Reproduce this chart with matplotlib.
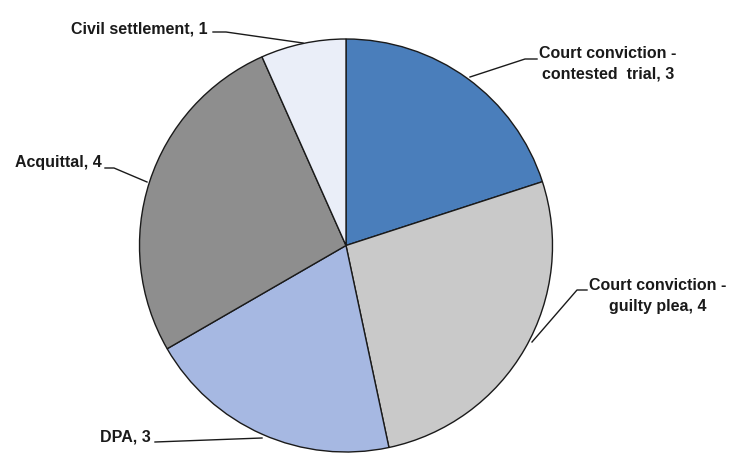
import matplotlib
matplotlib.use("Agg")
import matplotlib.pyplot as plt

plt.rcParams['font.family'] = ['Liberation Sans Narrow', 'Liberation Sans', 'DejaVu Sans']

labels = ["Court conviction -\ncontested  trial", "Court conviction -\nguilty plea", "DPA",
          "Acquittal", "Civil settlement"]
counts = [3, 4, 3, 4, 1]
colors = ["#4a7ebb", "#c9c9c9", "#a6b8e2", "#8e8e8e", "#eaeef8"]

W, H = 732, 453
fig = plt.figure(figsize=(W / 100, H / 100), dpi=100)
ax = fig.add_axes([0, 0, 1, 1])

cx, cy, r = 346, H - 245.5, 206.5
wedges, _ = ax.pie(counts, colors=colors, startangle=90, counterclock=False,
                   center=(cx, cy), radius=r, frame=True,
                   wedgeprops=dict(edgecolor='#1a1a1a', linewidth=1.0))
ax.set_xlim(0, W)
ax.set_ylim(0, H)
ax.set_aspect('equal')
ax.axis('off')

# rim point, leader elbow, end of the short horizontal, text anchor (pixels, y from top)
leaders = [
    dict(xy=(470, 77), elbow=(525, 59), end=537, text=(608, 64), ha='center'),
    dict(xy=(532, 342), elbow=(577, 290), end=587, text=(658, 296), ha='center'),
    dict(xy=(262, 438), elbow=(155, 442), end=155, text=(151, 437), ha='right'),
    dict(xy=(147, 182), elbow=(114, 168), end=105, text=(102, 163), ha='right'),
    dict(xy=(303, 43), elbow=(226, 32), end=213, text=(208, 29), ha='right'),
]

for lab, n, ld in zip(labels, counts, leaders):
    px, py = ld['xy']
    ex, ey = ld['elbow']
    tx, ty = ld['text']
    ax.plot([px, ex, ld['end']], [H - py, H - ey, H - ey], color='#1a1a1a', lw=1.0)
    ax.text(tx, H - ty, f"{lab}, {n}", ha=ld['ha'], va='center', fontsize=11.5,
            fontweight='bold', fontstretch='condensed', color='#1a1a1a',
            linespacing=1.45)

fig.savefig("out.png", dpi=100)
